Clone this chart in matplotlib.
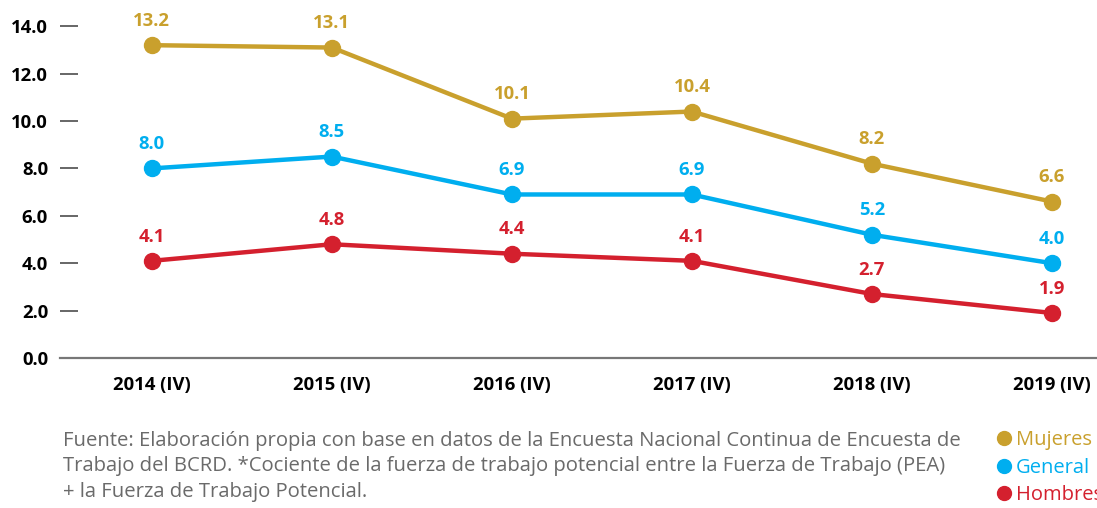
import matplotlib.pyplot as plt
from matplotlib.lines import Line2D

plt.rcParams['font.family'] = ['Open Sans', 'DejaVu Sans']

# data
periods = ['2014 (IV)', '2015 (IV)', '2016 (IV)', '2017 (IV)', '2018 (IV)', '2019 (IV)']
mujeres = [13.2, 13.1, 10.1, 10.4, 8.2, 6.6]
general = [8.0, 8.5, 6.9, 6.9, 5.2, 4.0]
hombres = [4.1, 4.8, 4.4, 4.1, 2.7, 1.9]
yticks = [0, 2, 4, 6, 8, 10, 12, 14]

c_muj = '#c9a02d'
c_gen = '#00aeef'
c_hom = '#d4202e'

fig = plt.figure(figsize=(10.97, 5.08), dpi=100)
ax = fig.add_axes([60/1097, 150/508, 1 - 60/1097, 346/508])

x = list(range(len(periods)))
series = [(mujeres, c_muj, 'Mujeres'), (general, c_gen, 'General'), (hombres, c_hom, 'Hombres')]
for vals, col, name in series:
    ax.plot(x, vals, color=col, lw=3.2, marker='o', ms=11.5, solid_capstyle='round', zorder=3)
    for xi, v in zip(x, vals):
        ax.annotate(f'{v:.1f}', (xi, v), xytext=(0, 17.5), textcoords='offset points',
                    ha='center', va='center', color=col, fontsize=13.3, fontweight='bold')

ax.set_xlim(-0.51, 5.25)
ax.set_ylim(0, 14.6)
ax.set_xticks(x)
ax.set_xticklabels(periods, fontsize=13.3, fontweight='bold')
ax.set_yticks(yticks)
ax.set_yticklabels([f'{t:.1f}' for t in yticks], fontsize=13.3, fontweight='bold')
ax.tick_params(axis='x', length=0, pad=13)
ax.tick_params(axis='y', direction='in', length=13, width=1.4, color='#666666', pad=8.6)

for s in ['top', 'right', 'left']:
    ax.spines[s].set_visible(False)
ax.spines['bottom'].set_color('#777777')
ax.spines['bottom'].set_linewidth(1.6)
ax.patch.set_alpha(0)

note = ['Fuente: Elaboración propia con base en datos de la Encuesta Nacional Continua de Encuesta de',
        'Trabajo del BCRD. *Cociente de la fuerza de trabajo potencial entre la Fuerza de Trabajo (PEA)',
        '+ la Fuerza de Trabajo Potencial.']
for i, line in enumerate(note):
    fig.text(63/1097, 1 - (441 + i*25.5)/508, line, fontsize=14.6, color='#6a6a6a', va='center')

handles = [Line2D([], [], color=col, marker='o', ls='none', ms=10) for _, col, _ in series]
leg = fig.legend(handles, [n for _, _, n in series], loc='upper left',
                 bbox_to_anchor=(998/1097, 1 - 430/508), frameon=False,
                 handlelength=0.6, handletextpad=0.3, labelspacing=0.38,
                 fontsize=14.5, borderaxespad=0, borderpad=0)
for t, (_, col, _) in zip(leg.get_texts(), series):
    t.set_color(col)

fig.savefig('out.png', dpi=100)
